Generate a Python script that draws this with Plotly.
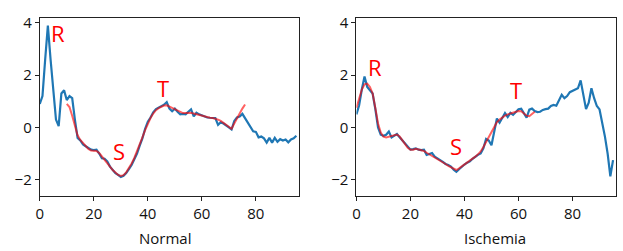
import plotly.graph_objects as go

# ---------------- data ----------------
normal_x = list(range(96))
normal_signal = [0.9, 1.2, 2.6, 3.9, 2.6, 1.4, 0.3, 0.05, 1.3, 1.42,
                 1.05, 1.2, 1.12, 0.3, -0.4, -0.5, -0.65, -0.72, -0.8, -0.85,
                 -0.87, -0.85, -1.0, -1.18, -1.2, -1.3, -1.5, -1.62, -1.75, -1.82,
                 -1.9, -1.85, -1.75, -1.6, -1.44, -1.22, -1.0, -0.7, -0.42, -0.05,
                 0.22, 0.38, 0.58, 0.7, 0.75, 0.8, 0.87, 0.97, 0.72, 0.62,
                 0.72, 0.6, 0.5, 0.52, 0.5, 0.6, 0.69, 0.42, 0.56, 0.5,
                 0.45, 0.42, 0.38, 0.37, 0.37, 0.36, 0.1, 0.2, 0.15, 0.06,
                 0.0, -0.08, 0.25, 0.38, 0.42, 0.52, 0.35, 0.15, 0.0, -0.15,
                 -0.17, -0.38, -0.35, -0.42, -0.58, -0.4, -0.58, -0.4, -0.55, -0.45,
                 -0.5, -0.46, -0.57, -0.46, -0.42, -0.32]

normal_fit_x = list(range(10, 77))
normal_fit = [0.9, 0.78, 0.45, 0.05, -0.3, -0.48, -0.6, -0.72, -0.82, -0.88,
              -0.9, -0.9, -0.98, -1.1, -1.22, -1.35, -1.5, -1.63, -1.74, -1.82,
              -1.86, -1.83, -1.72, -1.57, -1.38, -1.17, -0.93, -0.66, -0.38, -0.1,
              0.15, 0.36, 0.53, 0.66, 0.74, 0.8, 0.84, 0.85, 0.8, 0.73,
              0.67, 0.62, 0.57, 0.55, 0.55, 0.56, 0.56, 0.53, 0.5, 0.47,
              0.44, 0.41, 0.39, 0.37, 0.36, 0.34, 0.3, 0.25, 0.19, 0.1,
              0.02, -0.05, 0.15, 0.35, 0.55, 0.72, 0.88]

isch_x = list(range(96))
isch_signal = [0.5, 0.85, 1.45, 1.95, 1.55, 1.42, 1.3, 0.7, 0.0, -0.28,
               -0.32, -0.28, -0.16, -0.38, -0.3, -0.25, -0.38, -0.5, -0.62, -0.75,
               -0.85, -0.83, -0.8, -0.85, -0.87, -0.85, -1.05, -1.02, -0.98, -1.12,
               -1.2, -1.25, -1.32, -1.4, -1.44, -1.5, -1.62, -1.7, -1.6, -1.5,
               -1.42, -1.35, -1.3, -1.2, -1.12, -1.05, -1.0, -0.8, -0.44, -0.5,
               -0.68, -0.1, 0.34, 0.18, 0.38, 0.55, 0.4, 0.56, 0.48, 0.6,
               0.7, 0.72, 0.52, 0.37, 0.68, 0.72, 0.63, 0.59, 0.6, 0.67,
               0.7, 0.72, 0.82, 0.86, 0.83, 1.05, 1.25, 1.12, 1.2, 1.35,
               1.4, 1.42, 1.5, 1.8, 1.2, 0.7, 0.95, 1.5, 1.12, 0.82,
               0.69, 0.2, -0.35, -1.0, -1.87, -1.25]

isch_fit_x = list(range(0, 67))
isch_fit = [0.75, 1.1, 1.45, 1.65, 1.68, 1.55, 1.3, 0.75, 0.15, -0.2,
            -0.35, -0.38, -0.35, -0.3, -0.28, -0.27, -0.35, -0.5, -0.65, -0.78,
            -0.85, -0.85, -0.82, -0.85, -0.87, -0.9, -0.97, -1.03, -1.08, -1.13,
            -1.2, -1.27, -1.33, -1.4, -1.47, -1.53, -1.6, -1.63, -1.57, -1.5,
            -1.42, -1.35, -1.28, -1.2, -1.12, -1.03, -0.92, -0.75, -0.55, -0.35,
            -0.15, 0.05, 0.2, 0.3, 0.38, 0.45, 0.5, 0.53, 0.57, 0.6,
            0.63, 0.62, 0.55, 0.45, 0.43, 0.5, 0.6]

wave_labels = ["R", "S", "T"]
normal_label_x = [7.0, 29.7, 46.1]
normal_label_y = [3.5, -1.0, 1.41]
isch_label_x = [7.4, 37.2, 59.5]
isch_label_y = [2.19, -0.81, 1.31]

panel_titles = ["Normal", "Ischemia"]
y_ticks = [-2, 0, 2, 4]
x_ticks = [0, 20, 40, 60, 80]

# ---------------- figure ----------------
W, H = 623, 251
FONT = "Open Sans"
BLUE = "#1f77b4"
RED = "rgba(255,0,0,0.62)"

fig = go.Figure()
fig.add_trace(go.Scatter(x=normal_x, y=normal_signal, mode="lines",
                         line=dict(color=BLUE, width=2.2), xaxis="x", yaxis="y"))
fig.add_trace(go.Scatter(x=normal_fit_x, y=normal_fit, mode="lines",
                         line=dict(color=RED, width=2), xaxis="x", yaxis="y"))
fig.add_trace(go.Scatter(x=isch_x, y=isch_signal, mode="lines",
                         line=dict(color=BLUE, width=2.2), xaxis="x2", yaxis="y2"))
fig.add_trace(go.Scatter(x=isch_fit_x, y=isch_fit, mode="lines",
                         line=dict(color=RED, width=2), xaxis="x2", yaxis="y2"))

top, bottom = 13, 195
ydom = [1 - bottom / H, 1 - top / H]
axis_common = dict(showgrid=False, zeroline=False, showline=True, mirror=True,
                   linecolor="#222", linewidth=1, ticks="outside", ticklen=4,
                   tickcolor="#222", tickwidth=1,
                   tickfont=dict(family=FONT, size=15, color="#111"))

fig.update_layout(
    width=W, height=H, margin=dict(l=0, r=0, t=0, b=0),
    paper_bgcolor="white", plot_bgcolor="white", showlegend=False,
    xaxis=dict(domain=[36 / W, 297 / W], range=[0, 96], tickvals=x_ticks,
               anchor="y", **axis_common),
    yaxis=dict(domain=ydom, range=[-2.63, 4.2], tickvals=y_ticks,
               ticktext=[str(v).replace("-", "\u2212") for v in y_ticks],
               anchor="x", **axis_common),
    xaxis2=dict(domain=[354.7 / W, 615.7 / W], range=[0, 96], tickvals=x_ticks,
                anchor="y2", **axis_common),
    yaxis2=dict(domain=ydom, range=[-2.63, 4.2], tickvals=y_ticks,
                ticktext=[str(v).replace("-", "\u2212") for v in y_ticks],
                anchor="x2", **axis_common),
)

anns = []
for lab, lx, ly in zip(wave_labels, normal_label_x, normal_label_y):
    anns.append(dict(text=lab, x=lx, y=ly, xref="x", yref="y", showarrow=False,
                     xanchor="center", yanchor="middle", yshift=3, xshift=-1,
                     font=dict(family=FONT, size=22, color="red")))
for lab, lx, ly in zip(wave_labels, isch_label_x, isch_label_y):
    anns.append(dict(text=lab, x=lx, y=ly, xref="x2", yref="y2", showarrow=False,
                     xanchor="center", yanchor="middle", yshift=3, xshift=-1,
                     font=dict(family=FONT, size=22, color="red")))
for title, cx in zip(panel_titles, [161.7, 494.5]):
    anns.append(dict(text=title, x=cx / W, y=1 - 238 / H, xref="paper", yref="paper",
                     showarrow=False, xanchor="center", yanchor="middle",
                     font=dict(family=FONT, size=15, color="#111")))
fig.update_layout(annotations=anns)

fig.write_html("out.html", config={"displayModeBar": False},
               post_script="document.body.style.margin='0';document.body.style.padding='0';")
